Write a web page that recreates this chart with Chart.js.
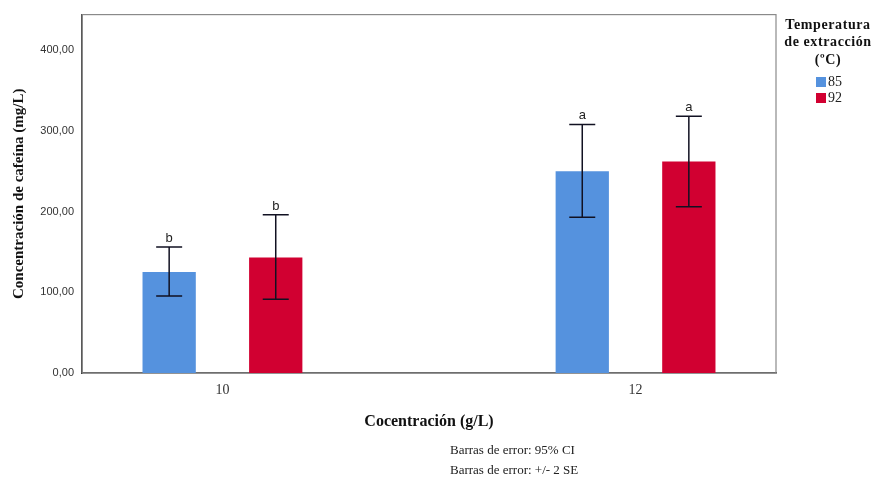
<!DOCTYPE html>
<html>
<head>
<meta charset="utf-8">
<title>Concentración de cafeína</title>
<script src="https://cdn.jsdelivr.net/npm/chart.js@4/dist/chart.umd.min.js"></script>
<style>
  html, body { margin: 0; padding: 0; background: #ffffff; }
  #wrap { width: 877px; height: 481px; }
</style>
</head>
<body>
<div id="wrap"><canvas id="c" width="877" height="481"></canvas></div>
<script>
// Coffee concentration (g/L) on the x axis
const categories = [10, 12];
// Mean caffeine concentration (mg/L) per extraction temperature
const temp85 = [125, 250];
const temp92 = [143, 262];
// 95% CI bounds
const ci85Low = [95.5, 193];
const ci85High = [156, 308];
const ci92Low = [91.5, 206];
const ci92High = [196, 318];
// Significance letters
const letters85 = ['b', 'a'];
const letters92 = ['b', 'a'];
// Y tick values
const yTicks = [0, 100, 200, 300, 400];
const seriesNames = ['85', '92'];
const legendTitle = ['Temperatura', 'de extracción', '(ºC)'];
const notes = ['Barras de error: 95% CI', 'Barras de error: +/- 2 SE'];

const BLUE = '#5592de';
const RED = '#d10031';
const SERIF = '"Liberation Serif", "Times New Roman", serif';

const toPoints = vals => categories.map((c, i) => ({ x: c, y: vals[i] }));

// Frame around the plot, error bars, letters, legend and notes
const decor = {
  id: 'decor',
  beforeDatasetsDraw(chart) {
    const { ctx, chartArea: a } = chart;
    ctx.save();
    ctx.strokeStyle = '#8a8a8a';
    ctx.lineWidth = 1.2;
    ctx.strokeRect(a.left, a.top, a.right - a.left, a.bottom - a.top);
    ctx.restore();
  },
  afterDatasetsDraw(chart) {
    const { ctx, scales } = chart;
    const y = scales.y;
    const lows = [ci85Low, ci92Low];
    const highs = [ci85High, ci92High];
    const letters = [letters85, letters92];
    ctx.save();
    chart.data.datasets.forEach((ds, d) => {
      const meta = chart.getDatasetMeta(d);
      meta.data.forEach((bar, i) => {
        const x = bar.x;
        const yl = y.getPixelForValue(lows[d][i]);
        const yh = y.getPixelForValue(highs[d][i]);
        ctx.strokeStyle = '#111122';
        ctx.lineWidth = 1.5;
        ctx.beginPath();
        ctx.moveTo(x, yl); ctx.lineTo(x, yh);
        ctx.moveTo(x - 13, yh); ctx.lineTo(x + 13, yh);
        ctx.moveTo(x - 13, yl); ctx.lineTo(x + 13, yl);
        ctx.stroke();
        ctx.fillStyle = '#222222';
        ctx.font = '13px "Liberation Sans", Arial, sans-serif';
        ctx.textAlign = 'center';
        ctx.textBaseline = 'alphabetic';
        ctx.fillText(letters[d][i], x, yh - 5);
      });
    });

    // legend
    const cx = 828;
    ctx.fillStyle = '#111111';
    ctx.font = 'bold 14px ' + SERIF;
    ctx.letterSpacing = '0.6px';
    ctx.textAlign = 'center';
    ctx.textBaseline = 'middle';
    legendTitle.forEach((t, k) => ctx.fillText(t, cx, 25 + k * 17.5));
    ctx.letterSpacing = '0px';
    ctx.font = '14px ' + SERIF;
    ctx.textAlign = 'left';
    chart.data.datasets.forEach((ds, d) => {
      const yy = 77 + d * 16;
      ctx.fillStyle = ds.backgroundColor;
      ctx.fillRect(816, yy, 10, 10);
      ctx.fillStyle = '#222222';
      ctx.fillText(ds.label, 828, yy + 5.5);
    });

    // notes
    ctx.font = '13px ' + SERIF;
    ctx.fillStyle = '#222222';
    notes.forEach((t, k) => ctx.fillText(t, 450, 451 + k * 20));
    ctx.restore();
  }
};

new Chart(document.getElementById('c'), {
  type: 'bar',
  data: {
    datasets: [
      { label: seriesNames[0], data: toPoints(temp85), backgroundColor: BLUE, borderWidth: 0 },
      { label: seriesNames[1], data: toPoints(temp92), backgroundColor: RED, borderWidth: 0 }
    ]
  },
  options: {
    responsive: false,
    animation: false,
    layout: { padding: { left: 0, right: 101, top: 12, bottom: 0 } },
    categoryPercentage: 0.516,
    barPercentage: 0.5,
    plugins: {
      legend: { display: false },
      tooltip: { enabled: false }
    },
    scales: {
      x: {
        type: 'linear',
        offset: false,
        min: 9.32,
        max: 12.68,
        afterBuildTicks(scale) { scale.ticks = categories.map(v => ({ value: v })); },
        afterFit(scale) { scale.height = 108; },
        grid: { display: false, drawTicks: false, offset: false },
        border: { display: true, color: '#444444', width: 1.5 },
        ticks: {
          padding: 9,
          color: '#333333',
          font: { family: SERIF, size: 14 },
          callback: v => String(v)
        },
        title: {
          display: true,
          text: 'Cocentración (g/L)',
          color: '#111111',
          font: { family: SERIF, size: 16, weight: 'bold' },
          padding: { top: 0, bottom: 50 }
        }
      },
      y: {
        min: 0,
        max: 444,
        afterBuildTicks(scale) { scale.ticks = yTicks.map(v => ({ value: v })); },
        afterFit(scale) { scale.width = 82; },
        grid: { display: false, drawTicks: false },
        border: { display: true, color: '#111111', width: 1.5 },
        ticks: {
          padding: 8,
          color: '#333333',
          font: { family: '"Liberation Sans", Arial, sans-serif', size: 11 },
          callback: v => Number(v).toFixed(2).replace('.', ',')
        },
        title: {
          display: true,
          text: 'Concentración de cafeína (mg/L)',
          color: '#111111',
          font: { family: SERIF, size: 15, weight: 'bold' },
          padding: { top: 10, bottom: 0 }
        }
      }
    }
  },
  plugins: [decor]
});
</script>
</body>
</html>
